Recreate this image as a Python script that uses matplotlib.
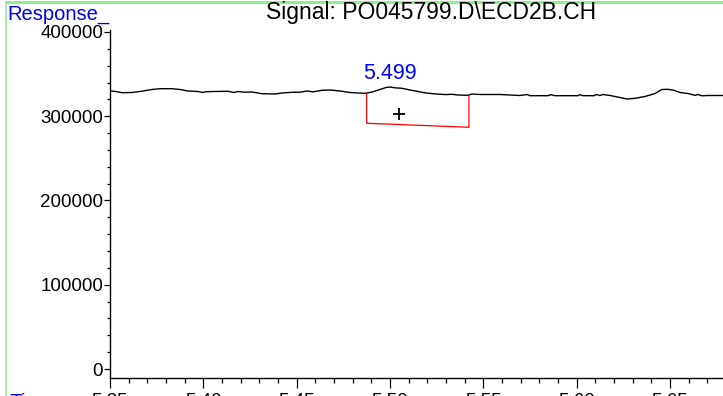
import matplotlib.pyplot as plt
from matplotlib.lines import Line2D
from matplotlib.ticker import MultipleLocator

plt.rcParams['font.family'] = ['Liberation Sans', 'DejaVu Sans']

# chromatogram trace
time = [5.3500, 5.3532, 5.3564, 5.3618, 5.3671, 5.3725, 5.3768, 5.3832, 5.3875,
        5.3918, 5.3971, 5.3998, 5.4014, 5.4057, 5.4132, 5.4164, 5.4186, 5.4218,
        5.4261, 5.4314, 5.4384, 5.4421, 5.4475, 5.4518, 5.4555, 5.4588, 5.4636,
        5.4679, 5.4732, 5.4786, 5.4829, 5.4871, 5.4904, 5.4946, 5.4979, 5.5000,
        5.5027, 5.5064, 5.5107, 5.5150, 5.5193, 5.5246, 5.5300, 5.5332, 5.5364,
        5.5418, 5.5439, 5.5482, 5.5589, 5.5696, 5.5734, 5.5750, 5.5846, 5.5863,
        5.5884, 5.6007, 5.6018, 5.6034, 5.6093, 5.6104, 5.6125, 5.6141, 5.6179,
        5.6232, 5.6270, 5.6313, 5.6366, 5.6420, 5.6457, 5.6489, 5.6521, 5.6554,
        5.6596, 5.6634, 5.6650, 5.6671, 5.6704, 5.6784]
response = [329960, 329370, 327950, 328180, 329720, 331740, 332690, 332690, 331740,
            329960, 329370, 328180, 329130, 329370, 329610, 328180, 329370, 328540,
            328770, 326760, 326400, 327590, 328420, 328540, 329960, 329010, 330790,
            331150, 329960, 328180, 327590, 327230, 328770, 331740, 334110, 334700,
            333760, 333160, 331150, 329370, 327590, 326400, 325690, 326050, 325210,
            324850, 326400, 325810, 325810, 324620, 325810, 324380, 324380, 325570,
            324380, 324380, 325570, 324380, 324380, 325810, 324620, 325810, 324620,
            322220, 320460, 321290, 323420, 327000, 331740, 331980, 330790, 328180,
            327000, 324850, 325810, 324270, 324620, 324620]

# integration baseline of the peak
base_t = [5.4875, 5.4875, 5.5423, 5.5423]
base_r = [327230, 291650, 286900, 324850]
peak_label = '5.499'
mark_t, mark_r = 5.5048, 302300

W, H = 723, 396
fig = plt.figure(figsize=(W / 100, H / 100), dpi=100)
ax = fig.add_axes([110 / W, 18 / H, 1 - 110 / W, 348 / H])

ax.plot(time, response, color='black', lw=1.0)
ax.plot(base_t, base_r, color='red', lw=0.9)
ax.plot(mark_t, mark_r, marker='+', color='black', ms=9, mew=1.3)
ax.text(5.5, 351300, peak_label, color='blue', fontsize=15.5,
        ha='center', va='center')

ax.set_xlim(5.35, 5.6784)
ax.set_ylim(-10682, 402360)
ax.xaxis.set_major_locator(MultipleLocator(0.05))
ax.xaxis.set_minor_locator(MultipleLocator(0.01))
ax.yaxis.set_major_locator(MultipleLocator(100000))
ax.yaxis.set_minor_locator(MultipleLocator(20000))
ax.xaxis.set_major_formatter(plt.FormatStrFormatter('%.2f'))
ax.tick_params(axis='x', which='major', length=7, width=0.9, pad=3.6, labelsize=13.5)
ax.tick_params(axis='x', which='minor', length=3.5, width=0.9)
ax.tick_params(axis='y', which='major', length=4.5, width=0.9, pad=0.5, labelsize=13.5)
ax.tick_params(axis='y', which='minor', length=2, width=0.9)
for s in ['top', 'right']:
    ax.spines[s].set_visible(False)
for s in ['left', 'bottom']:
    ax.spines[s].set_linewidth(1.0)

fig.text(7 / W, 1 - 14 / H, 'Response_', color='blue', fontsize=14.5,
         ha='left', va='center')
fig.text(431 / W, 1 - 12 / H, 'Signal: PO045799.D\\ECD2B.CH', color='black',
         fontsize=16.5, ha='center', va='center')
fig.text(9 / W, 1 - 393 / H, 'Time', color='blue', fontsize=15,
         ha='left', va='top')

green = '#90EE90'
fig.add_artist(Line2D([6 / W, 1], [1 - 2 / H, 1 - 2 / H], color=green, lw=2.2,
                      transform=fig.transFigure))
fig.add_artist(Line2D([6 / W, 6 / W], [0, 1 - 2 / H], color=green, lw=1.1,
                      transform=fig.transFigure))

fig.savefig('out.png', dpi=100)
